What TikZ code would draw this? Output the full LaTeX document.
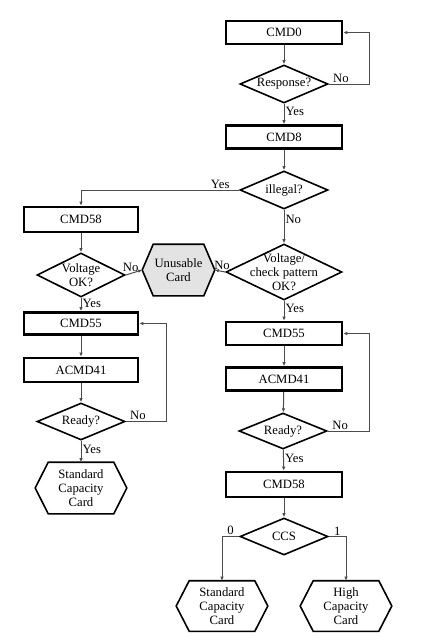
\documentclass[tikz,border=0pt]{standalone}
\usepackage{fontspec}
\setmainfont{Liberation Serif}
\usetikzlibrary{positioning, arrows.meta, calc, shapes.geometric}

% flat hexagon with pointed left/right ends
\pgfkeys{/pgf/hexagon point/.initial=13pt}
\makeatletter
\pgfdeclareshape{cardhexagon}{
  \inheritsavedanchors[from=rectangle]
  \inheritanchorborder[from=rectangle]
  \inheritanchor[from=rectangle]{center}
  \inheritanchor[from=rectangle]{text}
  \inheritanchor[from=rectangle]{north}
  \inheritanchor[from=rectangle]{south}
  \inheritanchor[from=rectangle]{east}
  \inheritanchor[from=rectangle]{west}
  \backgroundpath{%
    \southwest \edef\hexxl{\the\pgf@x}\edef\hexyb{\the\pgf@y}%
    \northeast \edef\hexxr{\the\pgf@x}\edef\hexyt{\the\pgf@y}%
    \pgfmathsetlengthmacro\hexd{\pgfkeysvalueof{/pgf/hexagon point}}%
    \pgfmathsetlengthmacro\hexym{(\hexyb+\hexyt)/2}%
    \pgfmathsetlengthmacro\hexxli{\hexxl+\hexd}%
    \pgfmathsetlengthmacro\hexxri{\hexxr-\hexd}%
    \pgfpathmoveto{\pgfpoint{\hexxl}{\hexym}}%
    \pgfpathlineto{\pgfpoint{\hexxli}{\hexyt}}%
    \pgfpathlineto{\pgfpoint{\hexxri}{\hexyt}}%
    \pgfpathlineto{\pgfpoint{\hexxr}{\hexym}}%
    \pgfpathlineto{\pgfpoint{\hexxri}{\hexyb}}%
    \pgfpathlineto{\pgfpoint{\hexxli}{\hexyb}}%
    \pgfpathclose
  }
}
\makeatother

\begin{document}
\begin{tikzpicture}[x=1pt, y=-1pt,
    every node/.style={font=\fontsize{12.7}{14}\selectfont},
    cmdbox/.style={draw, line width=2.6pt, fill=white, minimum width=116pt, minimum height=23pt, inner sep=0pt},
    decision/.style={diamond, draw, line width=1.6pt, inner sep=0pt, minimum width=88pt, minimum height=38pt},
    cardhex/.style={cardhexagon, draw, line width=1.6pt, inner sep=0pt, align=center,
        minimum width=90pt, minimum height=49pt, hexagon point=13pt},
    flow/.style={draw=black!70, line width=1pt, -{Latex[length=4pt,width=3.5pt]}},
    lbl/.style={inner sep=1pt}
]
    \useasboundingbox (0,0) rectangle (424,640);

    % ---------------- RIGHT COLUMN ----------------
    \node[cmdbox] (cmd0) at (284,32.5) {CMD0};
    \node[decision, label={center:Response?}] (resp) at (284,84) {};
    \node[cmdbox] (cmd8) at (284,137) {CMD8};
    \node[decision, label={center:illegal?}] (illegal) at (284,190) {};
    \node[decision, minimum width=116pt, minimum height=56pt,
          label={[align=center]center:Voltage/\\check pattern\\OK?}] (vchk) at (284,272) {};
    \node[cmdbox] (cmd55r) at (284,333.5) {CMD55};
    \node[cmdbox] (acmd41r) at (284,379) {ACMD41};
    \node[decision, minimum height=36pt, label={center:Ready?}] (readyr) at (283,431) {};
    \node[cmdbox, minimum height=25pt] (cmd58r) at (284,484.5) {CMD58};
    \node[decision, minimum height=37pt, label={center:CCS}] (ccs) at (284,536.5) {};
    \node[cardhex] (stdr) at (222,606) {Standard\\Capacity\\Card};
    \node[cardhex] (high) at (346,606) {High\\Capacity\\Card};
    \coordinate (rloop) at (369,0);

    % ---------------- LEFT COLUMN ----------------
    \node[cmdbox, minimum width=114pt, minimum height=25pt] (cmd58l) at (81,219.5) {CMD58};
    \node[decision, minimum height=44pt, label={[align=center]center:Voltage\\OK?}] (vok) at (81,275) {};
    \node[cardhex, fill=gray!22, minimum width=71pt, minimum height=50pt, hexagon point=11pt] (unusable) at (178.5,270) {Unusable\\Card};
    \node[cmdbox, minimum width=114pt, minimum height=22pt] (cmd55l) at (81,323.5) {CMD55};
    \node[cmdbox, minimum width=114pt, minimum height=24pt] (acmd41l) at (81,370) {ACMD41};
    \node[decision, minimum height=37pt, label={center:Ready?}] (readyl) at (81,421.5) {};
    \node[cardhex, minimum height=50pt] (stdl) at (81,488) {Standard\\Capacity\\Card};
    \coordinate (lloop) at (166,0);

    % Connectors (right)
    \draw[flow] (cmd0) -- (resp);
    \draw[flow] (resp.east) -- node[lbl, above, pos=0.3]{No} (resp.east -| rloop) |- (cmd0.east);
    \draw[flow] (resp) -- node[lbl, right, pos=0.35]{Yes} (cmd8);
    \draw[flow] (cmd8) -- (illegal);
    \draw[flow] (illegal.west) -- node[lbl, above, pos=0.12]{Yes} (illegal.west -| cmd58l.north) -- (cmd58l.north);
    \draw[flow] (illegal) -- node[lbl, right, pos=0.3]{No} (vchk);
    \draw[flow] (vchk.west) -- node[lbl, above, pos=0.3]{No} (unusable.east);
    \draw[flow] (vchk) -- node[lbl, right, pos=0.4]{Yes} (cmd55r);
    \draw[flow] (cmd55r) -- (acmd41r);
    \draw[flow] (acmd41r) -- (readyr);
    \draw[flow] (readyr.east) -- node[lbl, above, pos=0.3]{No} (readyr.east -| rloop) |- (cmd55r.east);
    \draw[flow] (readyr) -- node[lbl, right, pos=0.4]{Yes} (cmd58r);
    \draw[flow] (cmd58r) -- (ccs);
    \draw[flow] (ccs.west) -- node[lbl, above, pos=0.5]{0} (ccs.west -| stdr.north) -- (stdr.north);
    \draw[flow] (ccs.east) -- node[lbl, above, pos=0.5]{1} (ccs.east -| high.north) -- (high.north);

    % Connectors (left)
    \draw[flow] (cmd58l) -- (vok);
    \draw[flow] (vok.east) -- node[lbl, above, pos=0.3]{No} (unusable.west);
    \draw[flow] (vok) -- node[lbl, right, pos=0.4]{Yes} (cmd55l);
    \draw[flow] (cmd55l) -- (acmd41l);
    \draw[flow] (acmd41l) -- (readyl);
    \draw[flow] (readyl.east) -- node[lbl, above, pos=0.3]{No} (readyl.east -| lloop) |- (cmd55l.east);
    \draw[flow] (readyl) -- node[lbl, right, pos=0.4]{Yes} (stdl);
\end{tikzpicture}
\end{document}
